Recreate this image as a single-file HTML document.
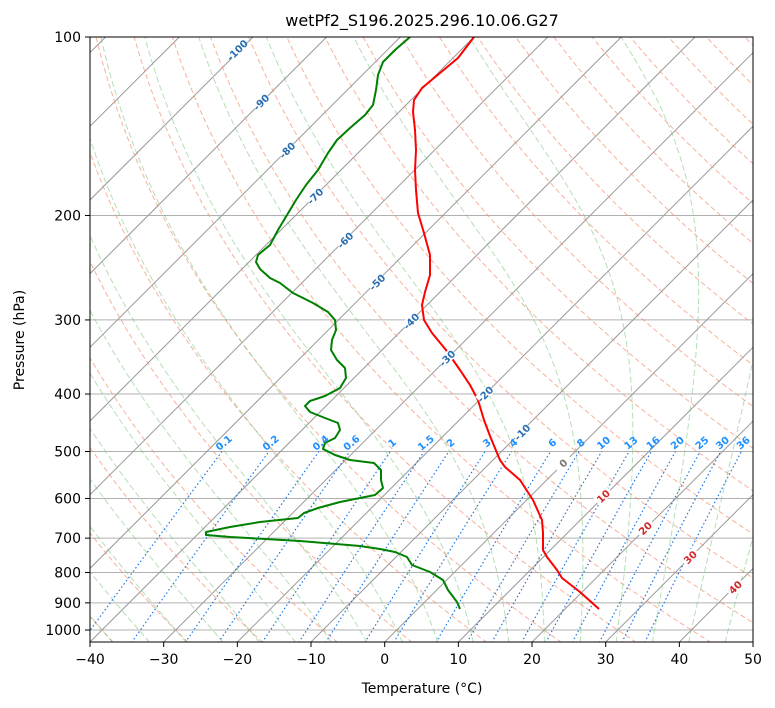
<!DOCTYPE html>
<html><head><meta charset="utf-8"><style>
html,body{margin:0;padding:0;background:#fff;}
svg{display:block;font-family:"DejaVu Sans","Liberation Sans",sans-serif;}
</style></head><body>
<svg id="s" width="775" height="708" viewBox="0 0 775 708" xmlns="http://www.w3.org/2000/svg">
<rect width="775" height="708" fill="#fff"/>
<defs><clipPath id="c"><rect x="90" y="37" width="663" height="605"/></clipPath></defs>
<g id="bg" clip-path="url(#c)"></g>
<g clip-path="url(#c)">
<polyline fill="none" stroke="#ff0000" stroke-width="2" stroke-linejoin="round" points="474,37 458,58 440,73 422,88 414,100 413,112 415,130 416,150 415,170 416,190 418,213 424,233 430,255 430,275 425,292 422,305 424,320 432,333 446,350 460,370 470,385 478,400 484,420 490,436 497,453 500,460 505,467 520,480 533,500 542,520 543,533 543,550 547,557 557,570 562,578 580,592 599,609"/>
<polyline fill="none" stroke="#008000" stroke-width="2" stroke-linejoin="round" points="410,37 395,50 383,62 378,75 376,90 373,105 365,115 350,128 337,140 328,153 318,170 306,185 296,200 287,215 278,230 270,245 258,255 256,262 260,269 270,278 280,283 293,293 313,303 328,312 335,320 336,330 332,340 331,350 337,360 345,368 346,378 340,388 325,396 310,401 305,406 310,412 325,418 338,423 340,430 335,438 325,443 323,449 335,455 350,460 374,463 381,470 381,480 383,488 375,495 360,498 340,502 318,508 304,513 298,518 260,522 230,527 206,532 206,535 230,537 300,541 360,546 380,549 395,552 407,557 412,565 430,572 443,580 448,590 457,602 460,609"/>
</g>
<g id="fg"></g>
<rect x="90" y="37" width="663" height="605" fill="none" stroke="#000" stroke-width="1"/>
<text x="422" y="26" font-size="16" text-anchor="middle">wetPf2_S196.2025.296.10.06.G27</text>
<text x="422" y="693" font-size="14" text-anchor="middle">Temperature (°C)</text>
<text transform="translate(24,340) rotate(-90)" font-size="14" text-anchor="middle">Pressure (hPa)</text>
</svg>
<script>
(function(){
var NS="http://www.w3.org/2000/svg";
var bg=document.getElementById('bg'),fg=document.getElementById('fg');
function Y(p){return 37+593*Math.log10(p/100);}
function X(T,p){return 90+(T+40)*7.367+(642-Y(p));}
function el(par,tag,a,txt){var e=document.createElementNS(NS,tag);for(var k in a)e.setAttribute(k,a[k]);if(txt!==undefined)e.textContent=txt;par.appendChild(e);return e;}
function line(pts,a){var s=pts.map(function(q){return q[0].toFixed(1)+','+q[1].toFixed(1)}).join(' ');a.points=s;a.fill='none';el(bg,'polyline',a);}
var P=[];for(var p=1050;p>=100;p-=10)P.push(p);
[100,200,300,400,500,600,700,800,900,1000].forEach(function(p){
 el(bg,'line',{x1:90,x2:753,y1:Y(p),y2:Y(p),stroke:'#b0b0b0','stroke-width':1});
 el(fg,'line',{x1:85,x2:90,y1:Y(p),y2:Y(p),stroke:'#000'});
 el(fg,'text',{x:81,y:Y(p)+5,'font-size':14,'text-anchor':'end'},String(p));
});
for(var t=-40;t<=50;t+=10){var x=90+(t+40)*7.367;
 el(fg,'line',{x1:x,x2:x,y1:642,y2:647,stroke:'#000'});
 el(fg,'text',{x:x,y:664,'font-size':14,'text-anchor':'middle'},t<0?'\u2212'+(-t):String(t));}
for(var t=-150;t<=60;t+=10){line([[X(t,1050),Y(1050)],[X(t,100),Y(100)]],{stroke:'#999','stroke-width':1});}
for(var th=-40;th<=200;th+=10){var pts=P.map(function(p){var T=(th+273.15)*Math.pow(p/1000,0.2857)-273.15;return [X(T,p),Y(p)];});
 line(pts,{stroke:'#f49070','stroke-opacity':0.7,'stroke-width':1,'stroke-dasharray':'5,3'});}
function es(T){return 6.112*Math.exp(17.67*T/(T+243.5));}
for(var t0=-40;t0<=45;t0+=5){
 function run(Tk,p0,p1,step){var arr=[],T=Tk,p=p0;while((step<0&&p>=p1)||(step>0&&p<=p1)){arr.push([X(T-273.15,p),Y(p)]);
  var e=es(T-273.15),rs=0.622*e/(p-e),Lv=2.501e6,Rd=287,Cp=1005;
  var dTdp=(Rd*T+Lv*rs)/(p*(Cp+Lv*Lv*rs*0.622/(Rd*T*T)));T+=dTdp*step;p+=step;}return arr;}
 var up=run(t0+273.15,1000,100,-5),dn=run(t0+273.15,1000,1050,5);
 line(dn.reverse().concat(up),{stroke:'#6bbf6b','stroke-opacity':0.5,'stroke-width':1,'stroke-dasharray':'6,3'});
}
var W=[0.1,0.2,0.4,0.6,1,1.5,2,3,4,6,8,10,13,16,20,25,30,36];
W.forEach(function(w){var ww=w/1000;var pts=[];for(var p=1050;p>=500;p-=10){var e=ww*p/(0.622+ww),l=Math.log(e/6.112),Td=243.5*l/(17.67-l);pts.push([X(Td,p),Y(p)]);}
 line(pts,{stroke:'#1e78e6','stroke-width':1.2,'stroke-dasharray':'1.5,2.5'});
 var q=pts[pts.length-1];el(fg,'text',{x:q[0]+4,y:q[1]-6,'font-size':10,'font-weight':'bold',fill:'#1e90ff','text-anchor':'middle',transform:'rotate(-40 '+(q[0]+4)+' '+(q[1]-6)+')'},String(w));
});
var L=[[-100,237,50],[-90,261,102],[-80,287,150],[-70,315,196],[-60,345,240],[-50,377,282],[-40,411,321],[-30,447,358],[-20,485,394],[-10,522,432],[0,563,463],[10,603,496],[20,645,528],[30,690,557],[40,735,587]];
L.forEach(function(a){var c=a[0]<0?'#2a6fb0':(a[0]==0?'#777':'#d62728');
 el(fg,'rect',{x:a[1]-9,y:a[2]-5,width:18,height:10,fill:'#fff',transform:'rotate(-45 '+a[1]+' '+a[2]+')'});
 el(fg,'text',{x:a[1],y:a[2]+4,'font-size':10,'font-weight':'bold',fill:c,'text-anchor':'middle',transform:'rotate(-45 '+a[1]+' '+a[2]+')'},String(a[0]));});
})();
</script>
</body></html>
